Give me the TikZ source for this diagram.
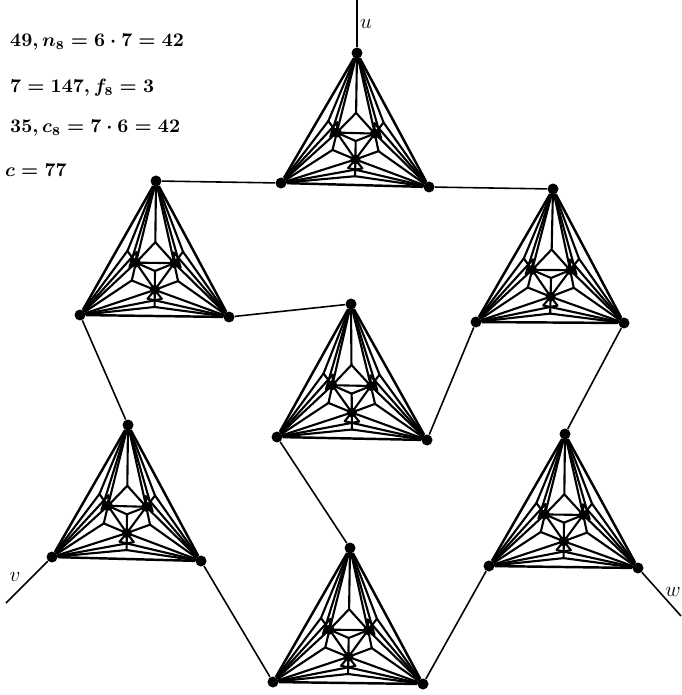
\documentclass[tikz,border=0pt]{standalone}
\usepackage{amsmath,amssymb}
\usetikzlibrary{calc}

\begin{document}
\begin{tikzpicture}[
  x=0.02cm, y=-0.02cm,
  every node/.style={font=\fontsize{11.5}{14}\selectfont},
  dot/.style ={circle, fill, inner sep=0pt, minimum size=0.22cm},
  sdot/.style={dot, minimum size=0.2cm},
  rim/.style ={line width=1.4pt, line join=round},
  ray/.style ={line width=1.2pt, line cap=round},
  lnk/.style ={line width=0.9pt},
  frm/.style ={anchor=west, font=\fontsize{10.5}{13}\selectfont\boldmath}
]
\useasboundingbox (0,0) rectangle (681,695);

%% gadgets: name / apex / left / right
\foreach \g/\ax/\ay/\bx/\by/\cx/\cy in {
    g1/357/53/281/183/429/187,
    g2/156/181/80/315/229/317,
    g3/553/189/476/322/624/323,
    g4/351/304/277/437/427/440,
    g5/128/425/52/557/201/561,
    g6/565/434/489/566/638/568,
    g7/350/548/273/682/423/684}{
  \node[dot] (\g A) at (\ax,\ay) {};
  \node[dot] (\g B) at (\bx,\by) {};
  \node[dot] (\g C) at (\cx,\cy) {};
  % inner points (angle / radius, barycentric)
  \foreach \p/\t/\r in {O/0/0, L/158/0.24, R/22/0.24, M/270/0.21,
      JA/90/0.32, JB/202/0.29, JC/338/0.29,
      LL/146/0.39, RR/34/0.39, MM/270/0.40,
      QAL/172/0.30, QBL/136/0.30, QBM/285/0.32,
      QCM/255/0.32, QCR/44/0.30, QAR/8/0.30}{
    \pgfmathsetmacro\wa{1/3+2/3*\r*cos(\t-90)}
    \pgfmathsetmacro\wb{1/3+2/3*\r*cos(\t-210)}
    \pgfmathsetmacro\wc{1/3+2/3*\r*cos(\t-330)}
    \coordinate (\g\p) at ($\wa*(\g A)+\wb*(\g B)+\wc*(\g C)$);
  }
  \foreach \s/\e in {A/B, B/C, C/A}
    \draw[rim] (\g\s) -- (\g\e);
  \foreach \s/\e in {A/JA, A/LL, A/QAL, A/L, A/RR, A/QAR, A/R,
                     B/JB, B/LL, B/QBL, B/L, B/MM, B/QBM, B/M,
                     C/JC, C/RR, C/QCR, C/R, C/MM, C/QCM, C/M,
                     JA/L, JA/R, JB/L, JB/M, JC/R, JC/M,
                     L/LL, R/RR, M/MM, L/QAL, L/QBL, M/QBM,
                     M/QCM, R/QCR, R/QAR, L/R, R/M, M/L, O/L, O/R, O/M}
    \draw[ray] (\g\s) -- (\g\e);
  \foreach \p in {L,R,M}
    \node[sdot] (\g\p v) at (\g\p) {};
}

%% links between gadgets
\foreach \s/\e in {g1B/g2A, g1C/g3A, g2C/g4A, g2B/g5A, g3B/g4C,
                   g3C/g6A, g4B/g7A, g5C/g7B, g6B/g7C}
  \draw[lnk] (\s) -- (\e);

%% free ends
\coordinate (uend) at (357,0);
\coordinate (vend) at (6,603);
\coordinate (wend) at (681,616);
\draw[lnk] (g1A) -- (uend);
\draw[lnk] (g5B) -- (vend);
\draw[lnk] (g6C) -- (wend);
\node (ulab) at (366,24) {$u$};
\node (vlab) at (15,577) {$v$};
\node (wlab) at (673,592) {$w$};

%% counts
\node[frm] (cnt1) at (4,42)  {$49, n_8 = 6\cdot 7 = 42$};
\node[frm] (cnt2) at (4,88)  {$7 = 147, f_8 = 3$};
\node[frm] (cnt3) at (4,128) {$35, c_8 = 7\cdot 6 = 42$};
\node[frm] (cnt4) at (-1,170) {$c = 77$};
\end{tikzpicture}
\end{document}
